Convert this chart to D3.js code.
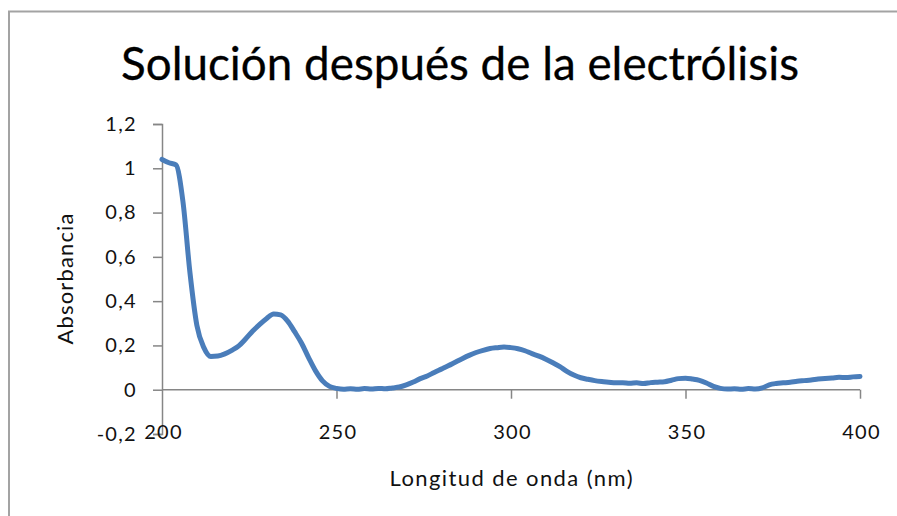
<!DOCTYPE html>
<html>
<head>
<meta charset="utf-8">
<script src="https://cdn.jsdelivr.net/npm/d3@7"></script>
<style>
  html, body { margin: 0; padding: 0; background: #fff; overflow: hidden; }
  svg { display: block; }
  text { font-family: Lato, "Open Sans", sans-serif; fill: #111; }
</style>
</head>
<body>
<svg id="chart" width="897" height="516"></svg>
<script>
// ---- data ----
const title = "Solución después de la electrólisis";
const xTitle = "Longitud de onda (nm)";
const yTitle = "Absorbancia";
const xTicks = [200, 250, 300, 350, 400];
const yTicks = [-0.2, 0, 0.2, 0.4, 0.6, 0.8, 1, 1.2];
const wavelength = [
  200,202,204,206,208,210,212,214,216,218,220,222,224,226,228,230,232,234,236,238,
  240,242,244,246,248,250,252,254,256,258,260,262,264,266,268,270,272,274,276,278,
  280,282,284,286,288,290,292,294,296,298,300,302,304,306,308,310,312,314,316,318,
  320,322,324,326,328,330,332,334,336,338,340,342,344,346,348,350,352,354,356,358,
  360,362,364,366,368,370,372,374,376,378,380,382,384,386,388,390,392,394,396,398,400
];
const absorbance = [
  1.04,1.025,1.015,0.85,0.53,0.29,0.19,0.15,0.152,0.162,0.178,0.198,0.23,0.265,0.295,0.322,0.342,0.338,0.31,0.262,
  0.21,0.145,0.085,0.04,0.015,0.006,0.002,0.004,0.002,0.005,0.003,0.006,0.004,0.008,0.012,0.022,0.035,0.05,0.062,0.078,
  0.093,0.108,0.124,0.14,0.155,0.168,0.178,0.186,0.19,0.193,0.19,0.185,0.176,0.163,0.152,0.138,0.122,0.104,0.083,0.066,
  0.054,0.047,0.041,0.037,0.034,0.031,0.032,0.029,0.031,0.028,0.032,0.034,0.036,0.043,0.05,0.052,0.048,0.042,0.03,0.015,
  0.006,0.003,0.004,0.002,0.005,0.003,0.008,0.022,0.028,0.031,0.034,0.038,0.041,0.044,0.048,0.051,0.053,0.056,0.055,0.058,0.06
];

const svg = d3.select("#chart");
const W = 897, H = 516;

// chart frame (left/top border of the chart area)
svg.append("path")
  .attr("d", `M9,${H + 10} L9,11.5 L${W + 10},11.5`)
  .attr("fill", "none")
  .attr("stroke", "#a3a3a3")
  .attr("stroke-width", 2);

const x = d3.scaleLinear().domain([200, 400]).range([162, 860]);
const y = d3.scaleLinear().domain([-0.2, 1.2]).range([434, 124]);
const fmt = d => d3.format(".1f")(d).replace(".", ",").replace(/,0$/, "").replace("\u2212", "-");

const axisColor = "#868686";

// title
svg.append("text")
  .attr("x", 460).attr("y", 80)
  .attr("text-anchor", "middle")
  .attr("textLength", 678)
  .attr("lengthAdjust", "spacingAndGlyphs")
  .style("font-size", "46px")
  .style("fill", "#000")
  .style("stroke", "#000")
  .style("stroke-width", 0.3)
  .text(title);

// y axis
const yAxis = d3.axisLeft(y).tickValues(yTicks).tickSize(9).tickFormat(fmt);
const gy = svg.append("g").attr("transform", `translate(${x(200)},0)`).call(yAxis);
gy.select(".domain").attr("stroke", axisColor).attr("stroke-width", 1.5);
gy.selectAll(".tick line").attr("stroke", axisColor).attr("stroke-width", 1.5);
gy.selectAll(".tick text").attr("x", -25)
  .style("font-size", "20px").style("letter-spacing", "1.3px")
  .style("font-family", "Lato, sans-serif").attr("fill", "#111");

// x axis at y = 0
const xAxis = d3.axisBottom(x).tickValues(xTicks).tickSize(9).tickFormat(d3.format("d"));
const gx = svg.append("g").attr("transform", `translate(0,${y(0)})`).call(xAxis);
gx.select(".domain").attr("stroke", axisColor).attr("stroke-width", 1.5).attr("d", `M${x(200)},0H${x(400)}`);
gx.selectAll(".tick line").attr("stroke", axisColor).attr("stroke-width", 1.5);
gx.selectAll(".tick text").attr("y", y(-0.2) - y(0) - 9).attr("dy", "0.71em").attr("dx", 1)
  .style("font-size", "20px").style("letter-spacing", "1.3px")
  .style("font-family", "Lato, sans-serif").attr("fill", "#111");
gx.selectAll(".tick").filter(d => d === 200).select("line").remove();

// axis titles
svg.append("text")
  .attr("x", 511).attr("y", 486)
  .attr("text-anchor", "middle")
  .attr("textLength", 243)
  .attr("lengthAdjust", "spacing")
  .style("font-size", "22px")
  .text(xTitle);
svg.append("text")
  .attr("transform", `translate(73,279) rotate(-90)`)
  .attr("text-anchor", "middle")
  .attr("textLength", 131)
  .attr("lengthAdjust", "spacing")
  .style("font-size", "22px")
  .text(yTitle);

// line
const data = wavelength.map((w, i) => ({ w, a: absorbance[i] }));
const line = d3.line().x(d => x(d.w)).y(d => y(d.a)).curve(d3.curveMonotoneX);
svg.append("path")
  .datum(data)
  .attr("d", line)
  .attr("fill", "none")
  .attr("stroke", "#4a7dba")
  .attr("stroke-width", 5)
  .attr("stroke-linejoin", "round")
  .attr("stroke-linecap", "round");
</script>
</body>
</html>
